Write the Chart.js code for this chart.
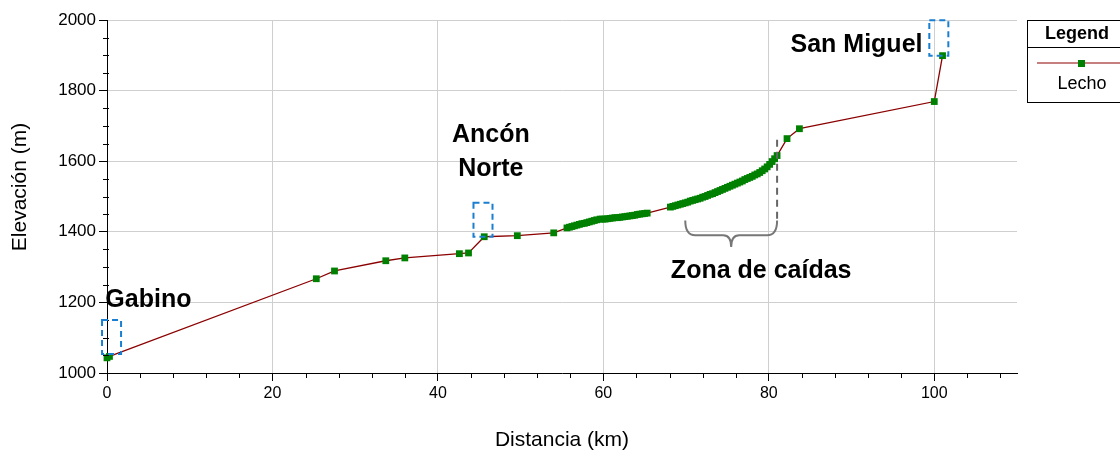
<!DOCTYPE html>
<html>
<head>
<meta charset="utf-8">
<script src="https://cdn.jsdelivr.net/npm/chart.js@4/dist/chart.umd.min.js"></script>
<style>
  html, body { margin: 0; padding: 0; background: #fff; }
  #wrap { width: 1120px; height: 453px; position: relative; }
</style>
</head>
<body>
<div id="wrap"><canvas id="profileChart"></canvas></div>
<script>
// Distance (km) and elevation (m) along the river bed
const distKm = [
    0, 0.3, 25.3, 27.5, 33.7, 36.0, 42.6, 43.7, 45.6, 49.6, 54.0,
    55.6, 55.9, 56.2, 56.5, 56.8, 57.1, 57.4, 57.7, 58.0, 58.3, 58.6, 58.9, 59.2, 59.6,
    59.9, 60.2, 60.5, 60.8, 61.1, 61.4, 61.7, 62.0, 62.3, 62.6, 62.9, 63.2, 63.5, 63.8,
    64.1, 64.4, 64.7, 65.0, 65.3,
    68.1, 68.4, 68.7, 69.0, 69.3, 69.6, 69.9, 70.2, 70.5, 70.8, 71.1, 71.4, 71.7, 72.0,
    72.3, 72.6, 72.9, 73.2, 73.5, 73.8, 74.1, 74.4, 74.7, 75.0, 75.3, 75.6, 75.9, 76.2,
    76.5, 76.8, 77.1, 77.4, 77.7, 78.0, 78.3, 78.6, 78.9, 79.2, 79.5, 79.8, 80.1, 80.4,
    80.7, 81.0,
    82.2, 83.7, 100.0, 101.0
];
const elevM = [
    1043, 1047, 1267, 1289, 1318, 1326, 1338, 1340, 1386, 1389, 1397,
    1411, 1413, 1415, 1417, 1419, 1421, 1423, 1424, 1426, 1428, 1430, 1432, 1434, 1436,
    1436, 1436, 1437, 1438, 1439, 1440, 1440, 1441, 1442, 1443, 1444, 1445, 1446, 1447,
    1449, 1450, 1451, 1452, 1453,
    1470, 1472, 1474, 1476, 1478, 1480, 1482, 1484, 1487, 1489, 1491, 1493, 1495, 1498,
    1500, 1503, 1506, 1508, 1511, 1514, 1517, 1520, 1523, 1526, 1529, 1532, 1535, 1538,
    1541, 1544, 1548, 1551, 1554, 1557, 1561, 1564, 1568, 1573, 1578, 1584, 1591, 1599,
    1607, 1616,
    1664, 1692, 1769, 1899
];

// Place names and dashed boxes, in data coordinates
const placeNames = ['Gabino', 'Ancón|Norte', 'San Miguel'];
const placeTextAt = [[-0.2, 1207, 'left'], [46.4, 1627, 'center'], [90.6, 1928, 'center']];
const placeBoxes = [[-0.6, 1054, 1.7, 1150], [44.3, 1386, 46.6, 1482], [99.4, 1899, 101.7, 1999]];
const zoneLabel = 'Zona de caídas';
const zoneRange = [69.9, 81.0];

const xTicks = [0, 20, 40, 60, 80, 100];
const yTicks = [1000, 1200, 1400, 1600, 1800, 2000];

const points = distKm.map((d, i) => ({ x: d, y: elevM[i] }));
const FONT = '"Liberation Sans", Arial, sans-serif';

const overlay = {
    id: 'overlay',
    afterDraw(chart) {
        const ctx = chart.ctx;
        const xs = chart.scales.x, ys = chart.scales.y;
        const area = chart.chartArea;
        ctx.save();

        // minor tick marks
        ctx.strokeStyle = '#000';
        ctx.lineWidth = 1;
        ctx.beginPath();
        for (let v = 4; v < 110; v += 4) {
            if (v % 20 === 0) continue;
            const px = Math.round(xs.getPixelForValue(v)) + 0.5;
            ctx.moveTo(px, area.bottom);
            ctx.lineTo(px, area.bottom + 5);
        }
        for (let v = 1050; v < 2000; v += 50) {
            if (v % 200 === 0) continue;
            const py = Math.round(ys.getPixelForValue(v)) + 0.5;
            ctx.moveTo(area.left - 4, py);
            ctx.lineTo(area.left + 2, py);
        }
        ctx.stroke();

        // y axis title
        ctx.fillStyle = '#000';
        ctx.font = '21px ' + FONT;
        ctx.textAlign = 'center';
        ctx.textBaseline = 'middle';
        ctx.save();
        ctx.translate(20, 187);
        ctx.rotate(-Math.PI / 2);
        ctx.fillText('Elevación (m)', 0, 0);
        ctx.restore();

        // dashed boxes
        ctx.strokeStyle = '#1a7fd0';
        ctx.lineWidth = 2;
        ctx.setLineDash([6, 4]);
        placeBoxes.forEach(b => {
            const x1 = xs.getPixelForValue(b[0]), y1 = ys.getPixelForValue(b[3]);
            const x2 = xs.getPixelForValue(b[2]), y2 = ys.getPixelForValue(b[1]);
            ctx.strokeRect(x1, y1, x2 - x1, y2 - y1);
        });

        // place labels
        ctx.setLineDash([]);
        ctx.font = 'bold 25px ' + FONT;
        placeNames.forEach((name, i) => {
            const [vx, vy, align] = placeTextAt[i];
            const lines = name.split('|');
            ctx.textAlign = align;
            const px = xs.getPixelForValue(vx), py = ys.getPixelForValue(vy);
            lines.forEach((ln, k) => {
                ctx.fillText(ln, px, py + (k - (lines.length - 1) / 2) * 34);
            });
        });

        // zone of falls: dashed marker line, brace and label
        const zl = xs.getPixelForValue(zoneRange[0]);
        const zr = xs.getPixelForValue(zoneRange[1]);
        const mid = (zl + zr) / 2;
        ctx.strokeStyle = '#666';
        ctx.lineWidth = 2;
        ctx.setLineDash([7, 5]);
        ctx.beginPath();
        ctx.moveTo(zr, ys.getPixelForValue(1661));
        ctx.lineTo(zr, ys.getPixelForValue(1430));
        ctx.stroke();
        ctx.setLineDash([]);

        const top = ys.getPixelForValue(1432);
        const bar = ys.getPixelForValue(1390);
        const tip = ys.getPixelForValue(1357);
        ctx.strokeStyle = '#777';
        ctx.lineWidth = 2;
        ctx.beginPath();
        ctx.moveTo(zl, top);
        ctx.quadraticCurveTo(zl, bar, zl + 10, bar);
        ctx.lineTo(mid - 8, bar);
        ctx.quadraticCurveTo(mid, bar, mid, tip);
        ctx.quadraticCurveTo(mid, bar, mid + 8, bar);
        ctx.lineTo(zr - 10, bar);
        ctx.quadraticCurveTo(zr, bar, zr, top);
        ctx.stroke();

        ctx.textAlign = 'center';
        ctx.fillText(zoneLabel, mid + 30, ys.getPixelForValue(1289));

        // legend box
        const lx = 1027, ly = 20, lw = 120, lh = 82;
        ctx.fillStyle = '#fff';
        ctx.fillRect(lx, ly, lw, lh);
        ctx.strokeStyle = '#000';
        ctx.lineWidth = 1;
        ctx.strokeRect(lx + 0.5, ly + 0.5, lw, lh);
        ctx.beginPath();
        ctx.moveTo(lx, ly + 27.5);
        ctx.lineTo(lx + lw, ly + 27.5);
        ctx.stroke();
        ctx.fillStyle = '#000';
        ctx.font = 'bold 18px ' + FONT;
        ctx.textAlign = 'left';
        ctx.fillText('Legend', lx + 18, ly + 14);
        ctx.strokeStyle = '#8b0000';
        ctx.lineWidth = 1.2;
        ctx.beginPath();
        ctx.moveTo(lx + 10, ly + 43);
        ctx.lineTo(lx + lw, ly + 43);
        ctx.stroke();
        ctx.fillStyle = '#008000';
        ctx.fillRect(lx + 51, ly + 40, 7, 7);
        ctx.fillStyle = '#000';
        ctx.font = '18px ' + FONT;
        ctx.textAlign = 'center';
        ctx.fillText('Lecho', lx + 55, ly + 64);

        ctx.restore();
    }
};

const ctx = document.getElementById('profileChart').getContext('2d');
new Chart(ctx, {
    type: 'line',
    data: {
        datasets: [{
            label: 'Lecho',
            data: points,
            borderColor: '#8b0000',
            borderWidth: 1.3,
            backgroundColor: '#008000',
            pointStyle: 'rect',
            pointRadius: 4.8,
            pointBorderWidth: 0,
            pointBackgroundColor: '#008000',
            tension: 0,
            clip: false
        }]
    },
    options: {
        responsive: true,
        maintainAspectRatio: false,
        animation: false,
        layout: { padding: { top: 20, right: 103, left: 0, bottom: 0 } },
        plugins: {
            legend: { display: false },
            tooltip: { enabled: false }
        },
        scales: {
            x: {
                type: 'linear',
                min: 0,
                max: 110,
                afterFit: s => { s.height = 80; },
                afterBuildTicks: s => { s.ticks = xTicks.map(v => ({ value: v })); },
                ticks: {
                    color: '#000',
                    padding: 3,
                    maxRotation: 0,
                    callback: v => String(v),
                    font: { size: 16, family: FONT }
                },
                grid: { color: '#cfcfcf', lineWidth: 1, tickColor: '#000', tickLength: 8 },
                border: { color: '#000', width: 1 },
                title: {
                    display: true,
                    text: 'Distancia (km)',
                    color: '#000',
                    font: { size: 21, family: FONT },
                    padding: { top: 0, bottom: 0 }
                }
            },
            y: {
                type: 'linear',
                min: 1000,
                max: 2000,
                afterFit: s => { s.width = 107; },
                afterBuildTicks: s => { s.ticks = yTicks.map(v => ({ value: v })); },
                ticks: {
                    color: '#000',
                    padding: 3,
                    callback: v => String(v),
                    font: { size: 17, family: FONT }
                },
                grid: { color: '#cfcfcf', lineWidth: 1, tickColor: '#000', tickLength: 8 },
                border: { color: '#000', width: 1 },
                title: { display: false }
            }
        }
    },
    plugins: [overlay]
});
</script>
</body>
</html>
